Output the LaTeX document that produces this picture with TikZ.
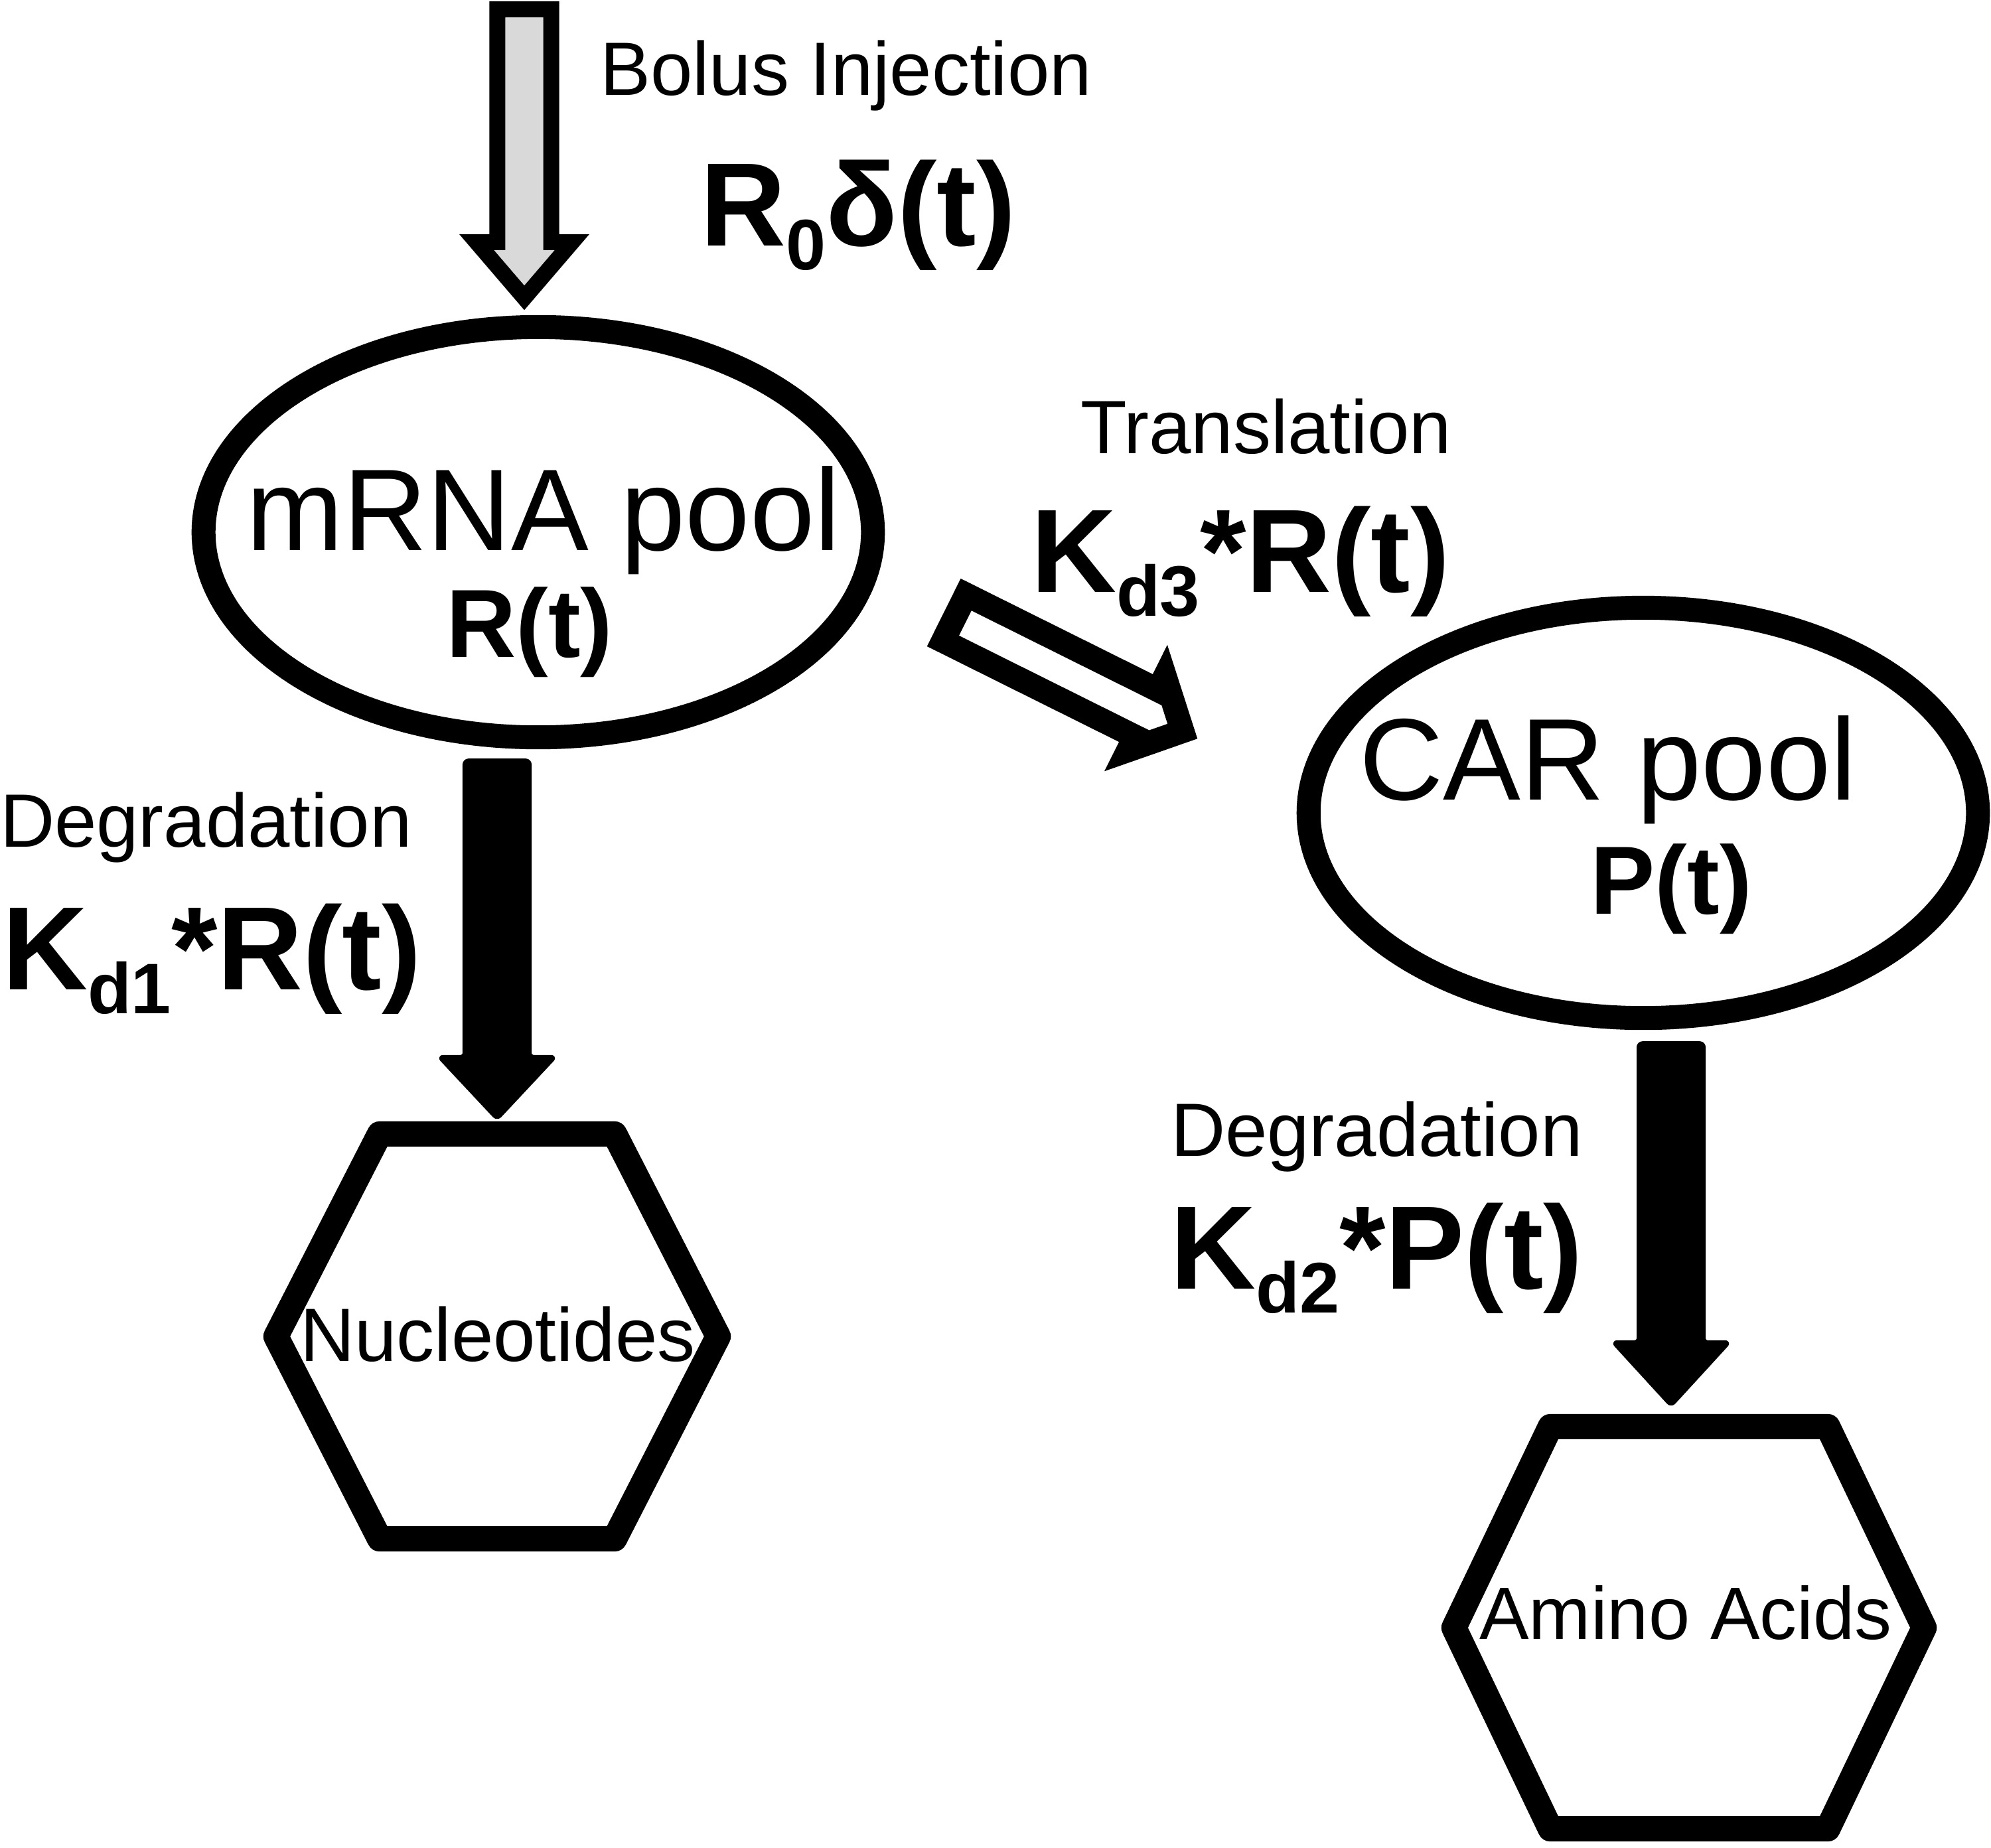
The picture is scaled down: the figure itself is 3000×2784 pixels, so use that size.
\documentclass[tikz,border=0pt]{standalone}
\usepackage{fontspec}
\setmainfont{Liberation Sans}
\usetikzlibrary{calc,shapes.geometric}
\definecolor{boluscol}{RGB}{217,217,217}
\newcommand\lowsub[1]{\raisebox{-10.3pt}{\fontsize{30.7pt}{34pt}\selectfont #1}}
% #1 options, #2 start, #3 tip, #4 shaft half width, #5 head half width, #6 head length
\newcommand\blockarrow[6][]{%
  \draw[#1] ($(#2)!#4!90:(#3)$) -- ($(#3)!#6!(#2)!#4!-90:(#2)$) -- ($(#3)!#6!(#2)!#5!-90:(#2)$) -- (#3)
    -- ($(#3)!#6!(#2)!#5!90:(#2)$) -- ($(#3)!#6!(#2)!#4!90:(#2)$) -- ($(#2)!#4!-90:(#3)$) -- cycle;}
% #1 node name, #2 half length of the top edge
\newcommand\hexdraw[2]{%
  \draw[hexline] (#1.west) -- ($(#1.north)+(-#2,0)$) -- ($(#1.north)+(#2,0)$) -- (#1.east)
    -- ($(#1.south)+(#2,0)$) -- ($(#1.south)+(-#2,0)$) -- cycle;}
\tikzset{
  pool/.style={ellipse, draw, line width=0.36cm, minimum width=10.08cm, minimum height=6.18cm, inner sep=0pt, outer sep=0pt},
  hexbox/.style={rectangle, inner sep=0pt, outer sep=0pt},
  hexline/.style={line width=0.38cm, line join=round},
  lbl/.style={inner sep=0pt, outer sep=0pt, anchor=base west, font=\fontsize{32.4pt}{37pt}\selectfont},
  hexlbl/.style={inner sep=0pt, outer sep=0pt, anchor=base, font=\fontsize{#1}{37pt}\selectfont},
  bigbold/.style={inner sep=0pt, outer sep=0pt, anchor=base west, font=\bfseries\fontsize{50.8pt}{57pt}\selectfont},
  pooltxt/.style={inner sep=0pt, outer sep=0pt, anchor=base, font=\fontsize{49.8pt}{56pt}\selectfont},
  poolvar/.style={inner sep=0pt, outer sep=0pt, anchor=base, font=\bfseries\fontsize{41.5pt}{48pt}\selectfont},
  grayarrow/.style={draw=black, fill=boluscol, line width=0.24cm},
  openarrow/.style={draw=black, fill=white, line width=0.36cm},
  solidarrow/.style={draw=black, fill=black, line width=0.06cm, line join=round, rounded corners=0.06cm}
}
\begin{document}
\begin{tikzpicture}[x=0.01cm, y=-0.01cm]
\useasboundingbox (0,0) rectangle (3000,2784);

% pools
\node[pool] (mrna) at (811,802) {};
\node[pool] (car) at (2476,1225) {};

% product hexagons
\node[hexbox, minimum width=6.66cm, minimum height=6.10cm] (nuc) at (749,2014) {};
\node[hexbox, minimum width=7.08cm, minimum height=6.06cm] (amino) at (2545,2453) {};
\hexdraw{nuc}{177}
\hexdraw{amino}{209}

% arrow end points
\coordinate (bolstart) at (790,14);
\coordinate (boltip) at ($(mrna.north)+(-21,-44)$);
\coordinate (trstart) at ($(mrna.east)+(123,129)$);
\coordinate (trtip) at ($(car.west)+(-190,-123)$);
\coordinate (dgAstart) at ($(nuc.north |- mrna.south)+(0,35)$);
\coordinate (dgAtip) at ($(nuc.north)+(0,-23)$);
\coordinate (dgBstart) at ($(car.south)+(42,38)$);
\coordinate (dgBtip) at ($(amino.north)+(-27,-32)$);

% arrows
\blockarrow[grayarrow]{bolstart}{boltip}{0.405cm}{0.72cm}{0.84cm}
\blockarrow[openarrow]{trstart}{trtip}{0.39cm}{0.62cm}{0.604cm}
\blockarrow[solidarrow]{dgAstart}{dgAtip}{0.49cm}{0.87cm}{0.93cm}
\blockarrow[solidarrow]{dgBstart}{dgBtip}{0.49cm}{0.87cm}{0.95cm}

% texts
\node[lbl] (bolustxt) at (904,143) {Bolus Injection};
\node[bigbold] (bolusrate) at (1055,370) {R\lowsub{0}δ(t)};
\node[pooltxt] (mrnatxt) at (819,829) {mRNA pool};
\node[poolvar] (mrnavar) at (798,990) {R(t)};
\node[lbl] (transtxt) at (1628,683) {Translation};
\node[bigbold] (transrate) at (1553,892) {K\lowsub{d3}*R(t)};
\node[pooltxt] (cartxt) at (2423,1205) {CAR pool};
\node[poolvar] (carvar) at (2518,1377) {P(t)};
\node[lbl] (dgAtxt) at (0,1276) {Degradation};
\node[bigbold] (dgArate) at (3,1491) {K\lowsub{d1}*R(t)};
\node[lbl] (dgBtxt) at (1764,1742) {Degradation};
\node[bigbold] (dgBrate) at (1763,1942) {K\lowsub{d2}*P(t)};
\node[hexlbl=32.4pt] (nuctxt) at (750,2051) {Nucleotides};
\node[hexlbl=31.8pt] (aminotxt) at (2540,2470) {Amino Acids};
\end{tikzpicture}
\end{document}
